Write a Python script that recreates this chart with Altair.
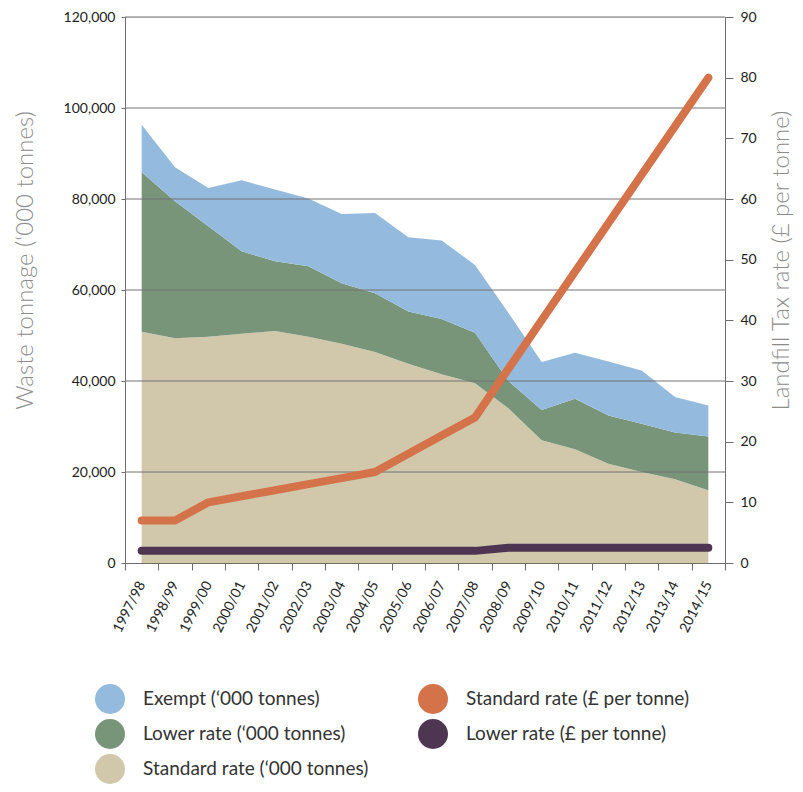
import altair as alt
import pandas as pd

# ---- data -------------------------------------------------------------
years = ["1997/98", "1998/99", "1999/00", "2000/01", "2001/02", "2002/03",
         "2003/04", "2004/05", "2005/06", "2006/07", "2007/08", "2008/09",
         "2009/10", "2010/11", "2011/12", "2012/13", "2013/14", "2014/15"]

# waste tonnage ('000 tonnes)
standard_kt = [50800, 49400, 49700, 50400, 51000, 49700, 48200, 46400, 43800,
               41500, 39500, 34000, 27000, 25000, 21800, 20000, 18400, 16000]
lower_kt = [35100, 30100, 24300, 18100, 15300, 15500, 13300, 12900, 11500,
            12100, 11100, 6000, 6600, 11100, 10600, 10600, 10300, 11800]
exempt_kt = [10400, 7500, 8400, 15600, 15800, 14900, 15200, 17600, 16300,
             17300, 14900, 15000, 10600, 10100, 11900, 11700, 7800, 6800]

# landfill tax rates (GBP per tonne)
standard_rate = [7, 7, 10, 11, 12, 13, 14, 15, 18, 21, 24, 32, 40, 48, 56, 64, 72, 80]
lower_rate = [2, 2, 2, 2, 2, 2, 2, 2, 2, 2, 2, 2.5, 2.5, 2.5, 2.5, 2.5, 2.5, 2.5]

left_ticks = [0, 20000, 40000, 60000, 80000, 100000, 120000]
grid_values = [20000, 40000, 60000, 80000, 100000, 120000]
right_ticks = [0, 10, 20, 30, 40, 50, 60, 70, 80, 90]

series_names = ["Exempt (‘000 tonnes)", "Lower rate (‘000 tonnes)",
                "Standard rate (‘000 tonnes)", "Standard rate (£ per tonne)",
                "Lower rate (£ per tonne)"]
series_colors = ["#94bbdd", "#78957a", "#d1c8ab", "#d4724a", "#4e3652"]

rows = []
for i, yr in enumerate(years):
    rows.append({"year": yr, "series": series_names[2], "value": standard_kt[i], "stack": 0})
    rows.append({"year": yr, "series": series_names[1], "value": lower_kt[i], "stack": 1})
    rows.append({"year": yr, "series": series_names[0], "value": exempt_kt[i], "stack": 2})
area_df = pd.DataFrame(rows)
rate_df = pd.DataFrame({"year": years, "standard_rate": standard_rate, "lower_rate": lower_rate})
grid_df = pd.DataFrame({"v": grid_values})

FONT = "Lato"
AXIS_GRAY = "#6e6e6e"

x_enc = alt.X(
    "year:O", sort=years, bandPosition=0.5,
    scale=alt.Scale(type="band", paddingInner=0, paddingOuter=0),
    axis=alt.Axis(title=None, labelAngle=297, labelAlign="right", labelBaseline="middle",
                  tickBand="extent", tickSize=7, labelPadding=12, labelFontSize=14,
                  labelColor="#222", domainColor=AXIS_GRAY, tickColor=AXIS_GRAY,
                  labelFont=FONT, grid=False),
)

left_scale = alt.Scale(domain=[0, 120000], nice=False)
right_scale = alt.Scale(domain=[0, 90], nice=False)

left_axis = alt.Axis(values=left_ticks, format=",d", title="Waste tonnage (‘000 tonnes)",
                     grid=False, tickSize=4, labelPadding=6, labelFontSize=14,
                     labelColor="#222", labelFont=FONT, domainColor=AXIS_GRAY,
                     tickColor=AXIS_GRAY, titleFontSize=24, titleFontWeight=300,
                     titleColor="#8c8c8c", titleFont=FONT, titleAngle=270,
                     titleX=-100, titleY=243, titleAlign="center",
                     titleBaseline="middle")

right_axis = alt.Axis(orient="right", values=right_ticks, title="Landfill Tax rate (£ per tonne)",
                      grid=False, tickSize=8, labelPadding=7, labelFontSize=14,
                      labelColor="#222", labelFont=FONT, domainColor=AXIS_GRAY,
                      tickColor=AXIS_GRAY, titleFontSize=24, titleFontWeight=300,
                      titleColor="#8c8c8c", titleFont=FONT, titleAngle=270,
                      titleX=56, titleY=243, titleAlign="center",
                      titleBaseline="middle")

area = alt.Chart(area_df).mark_area(opacity=1).encode(
    x=x_enc,
    y=alt.Y("value:Q", stack="zero", scale=left_scale, axis=left_axis,
            title="Waste tonnage (‘000 tonnes)"),
    color=alt.Color("series:N", scale=alt.Scale(domain=series_names, range=series_colors),
                    legend=alt.Legend(title=None, orient="none", legendX=-30, legendY=667,
                                      columns=2, symbolType="circle", symbolSize=900,
                                      symbolStrokeWidth=0, symbolOpacity=1,
                                      labelFontSize=19, labelColor="#333", labelFont=FONT,
                                      labelOffset=18, rowPadding=5, columnPadding=49,
                                      labelLimit=400)),
    order=alt.Order("stack:Q", sort="ascending"),
)

grid = alt.Chart(grid_df).mark_rule(color="#727272", strokeWidth=1).encode(
    y=alt.Y("v:Q", scale=left_scale, axis=left_axis, title="Waste tonnage (‘000 tonnes)")
)

line_std = alt.Chart(rate_df).mark_line(
    color="#d4724a", strokeWidth=8, strokeCap="round", strokeJoin="round"
).encode(
    x=x_enc,
    y=alt.Y("standard_rate:Q", scale=right_scale, axis=right_axis,
            title="Landfill Tax rate (£ per tonne)"),
)

line_low = alt.Chart(rate_df).mark_line(
    color="#4e3652", strokeWidth=8, strokeCap="round", strokeJoin="round"
).encode(
    x=x_enc,
    y=alt.Y("lower_rate:Q", scale=right_scale, axis=right_axis,
            title="Landfill Tax rate (£ per tonne)"),
)

chart = alt.layer(
    alt.layer(area, grid),
    alt.layer(line_std, line_low),
).resolve_scale(y="independent").properties(
    width=600, height=546,
    autosize=alt.AutoSizeParams(type="none"),
    padding={"left": 117, "top": 9, "right": 70, "bottom": 221},
).configure_view(stroke=None).configure(font=FONT)

chart.save("out.html", embed_options={"renderer": "svg", "actions": False})
